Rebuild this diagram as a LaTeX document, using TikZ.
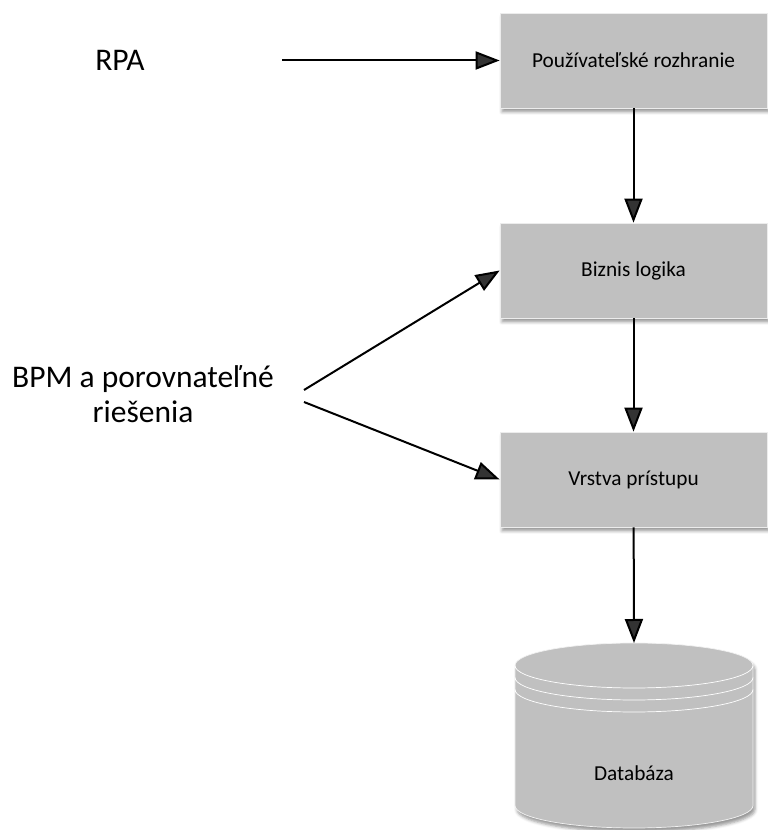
\documentclass[tikz,border=0pt]{standalone}
\usepackage{fontspec}
\setmainfont{Carlito}
\usetikzlibrary{arrows.meta,shadows.blur}
\definecolor{layergray}{RGB}{192,192,192}

\begin{document}
\begin{tikzpicture}
  [x=1pt, y=1pt,
  layer/.style={draw=gray!15, fill=layergray, line width=0.7pt,
    minimum width=267pt, minimum height=95pt, inner sep=0pt,
    font=\fontsize{21.3}{25}\selectfont,
    blur shadow={shadow xshift=2pt, shadow yshift=-4pt, shadow blur radius=3pt}},
  store/.style={draw=gray!10, fill=layergray, line width=0.7pt,
    blur shadow={shadow xshift=2pt, shadow yshift=-4pt, shadow blur radius=3pt}},
  sidetext/.style={align=center, inner sep=0pt, font=\fontsize{31.5}{35}\selectfont},
  flow/.style={->, line width=2pt},
  >={Triangle[length=24pt,width=18pt]}]
  \useasboundingbox (0,0) rectangle (768,830);
  \node (ui)     [layer] at (633.5,769.5) {Používateľské rozhranie};
  \node (logic)  [layer] at (633.5,559.5) {Biznis logika};
  \node (access) [layer] at (633.5,350.5) {Vrstva prístupu};
  % databaza
  \draw[store] (515,164.5) -- (515,24.5)
    arc[start angle=180, end angle=360, x radius=119pt, y radius=22.5pt]
    -- (753,164.5)
    arc[start angle=0, end angle=180, x radius=119pt, y radius=22.5pt] -- cycle;
  \draw[draw=white, line width=0.7pt] (515,164.5)
    arc[start angle=180, end angle=360, x radius=119pt, y radius=22.5pt];
  \draw[draw=white, line width=0.7pt] (515,152.5)
    arc[start angle=180, end angle=360, x radius=119pt, y radius=22.5pt];
  \draw[draw=white, line width=0.7pt] (515,140.5)
    arc[start angle=180, end angle=360, x radius=119pt, y radius=22.5pt];
  \node (db) [font=\fontsize{21.3}{25}\selectfont] at (634,57) {Databáza};
  \coordinate (dbtop) at (634,187) [];
  \node (rpa) [sidetext] at (120,769.5) {RPA};
  \node (bpm) [sidetext] at (143,436) {BPM a porovnateľné\\riešenia};
  \coordinate (rpaout) at (282,769.5) [];
  \coordinate (bpmup) at (304,440) [];
  \coordinate (bpmdown) at (304,428) [];
  \draw[flow] (rpaout) -- (ui);
  \draw[flow] (ui) -- (logic);
  \draw[flow] (logic) -- (access);
  \draw[flow] (access) -- (dbtop);
  \draw[flow] (bpmup) -- (logic.west);
  \draw[flow] (bpmdown) -- (access.west);
\end{tikzpicture}
\end{document}
